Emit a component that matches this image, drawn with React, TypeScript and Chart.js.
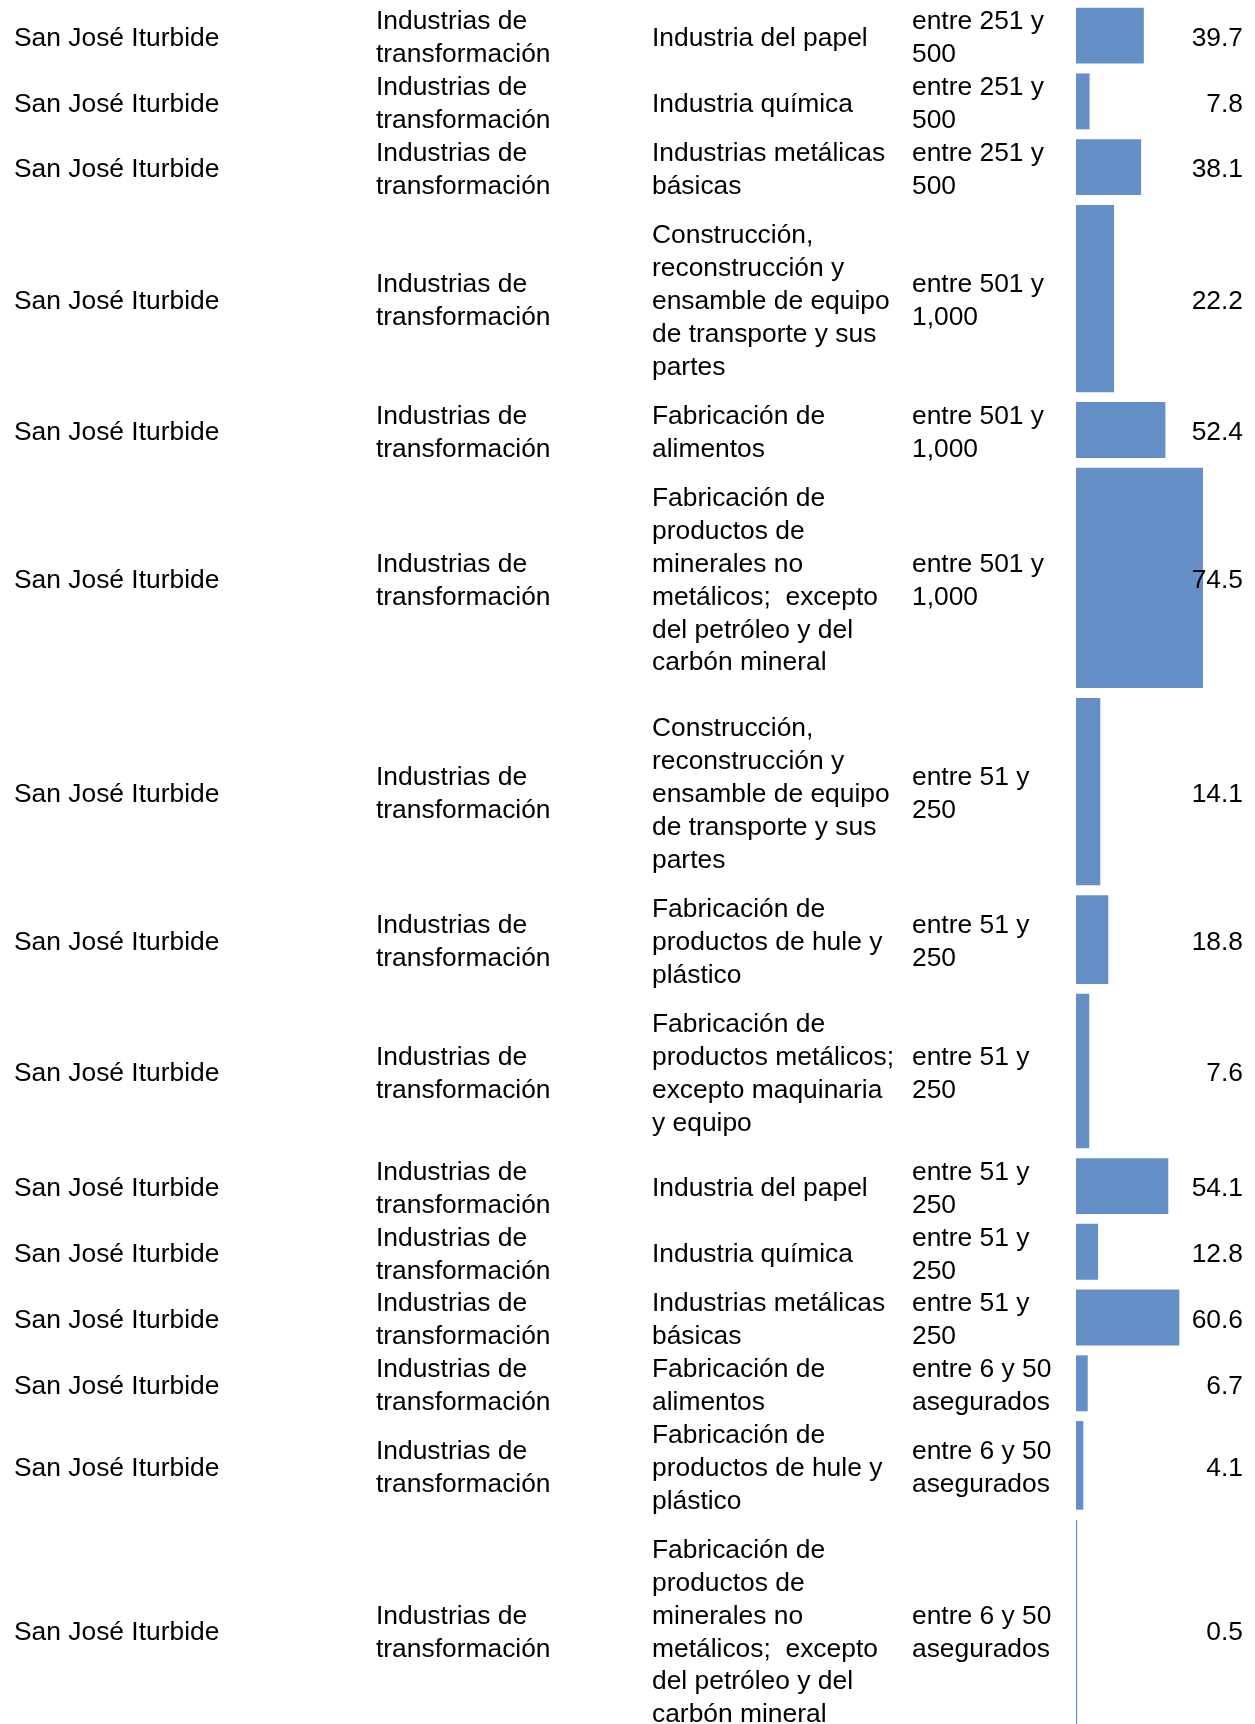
import React, { useEffect, useRef } from 'react';
import { Chart, registerables } from 'chart.js';

Chart.register(...registerables);

// ---- Data ----
const municipios: string[] = [
  'San José Iturbide', 'San José Iturbide', 'San José Iturbide', 'San José Iturbide', 'San José Iturbide',
  'San José Iturbide', 'San José Iturbide', 'San José Iturbide', 'San José Iturbide', 'San José Iturbide',
  'San José Iturbide', 'San José Iturbide', 'San José Iturbide', 'San José Iturbide', 'San José Iturbide',
];

const sectores: string[] = [
  'Industrias de\ntransformación', 'Industrias de\ntransformación', 'Industrias de\ntransformación',
  'Industrias de\ntransformación', 'Industrias de\ntransformación', 'Industrias de\ntransformación',
  'Industrias de\ntransformación', 'Industrias de\ntransformación', 'Industrias de\ntransformación',
  'Industrias de\ntransformación', 'Industrias de\ntransformación', 'Industrias de\ntransformación',
  'Industrias de\ntransformación', 'Industrias de\ntransformación', 'Industrias de\ntransformación',
];

const subsectores: string[] = [
  'Industria del papel',
  'Industria química',
  'Industrias metálicas\nbásicas',
  'Construcción,\nreconstrucción y\nensamble de equipo\nde transporte y sus\npartes',
  'Fabricación de\nalimentos',
  'Fabricación de\nproductos de\nminerales no\nmetálicos;  excepto\ndel petróleo y del\ncarbón mineral',
  'Construcción,\nreconstrucción y\nensamble de equipo\nde transporte y sus\npartes',
  'Fabricación de\nproductos de hule y\nplástico',
  'Fabricación de\nproductos metálicos;\nexcepto maquinaria\ny equipo',
  'Industria del papel',
  'Industria química',
  'Industrias metálicas\nbásicas',
  'Fabricación de\nalimentos',
  'Fabricación de\nproductos de hule y\nplástico',
  'Fabricación de\nproductos de\nminerales no\nmetálicos;  excepto\ndel petróleo y del\ncarbón mineral',
];

const tamanos: string[] = [
  'entre 251 y\n500', 'entre 251 y\n500', 'entre 251 y\n500',
  'entre 501 y\n1,000', 'entre 501 y\n1,000', 'entre 501 y\n1,000',
  'entre 51 y\n250', 'entre 51 y\n250', 'entre 51 y\n250',
  'entre 51 y\n250', 'entre 51 y\n250', 'entre 51 y\n250',
  'entre 6 y 50\nasegurados', 'entre 6 y 50\nasegurados', 'entre 6 y 50\nasegurados',
];

const valores: number[] = [39.7, 7.8, 38.1, 22.2, 52.4, 74.5, 14.1, 18.8, 7.6, 54.1, 12.8, 60.6, 6.7, 4.1, 0.5];

// ---- Layout ----
const W = 1255;
const H = 1724;
const LINE_H = 32.87;
const GAP = 10.5;
const Y_MIN = -0.084;
const Y_MAX = Y_MIN + H / LINE_H;
const FONT = '26.4px "Liberation Sans", Arial, sans-serif';
const COL_X = [14, 376, 652, 912];
const VALUE_X = 1243;
const TEXT_SHIFT = 3;
const BAR_LEFT = 1076;
const BAR_RIGHT_PAD = 9;
const BAR_COLOR = '#658FC7';

const columns = [municipios, sectores, subsectores, tamanos];

function rowSpan(i: number): number {
  const n = Math.max(...columns.map((c) => c[i].split('\n').length));
  if (n <= 2) return 2;
  if (n === 3) return 3;
  return n + 1;
}

const spans = valores.map((_, i) => rowSpan(i));
const centers: number[] = [];
{
  let acc = 0;
  spans.forEach((s) => {
    centers.push(acc + s / 2);
    acc += s;
  });
}

const textPlugin = {
  id: 'tableText',
  afterDatasetsDraw(chart: any) {
    const ctx = chart.ctx as CanvasRenderingContext2D;
    const y = chart.scales.y;
    ctx.save();
    ctx.font = FONT;
    ctx.fillStyle = '#000000';
    ctx.textBaseline = 'middle';
    valores.forEach((v, i) => {
      const cy = y.getPixelForValue(centers[i]) + TEXT_SHIFT;
      ctx.textAlign = 'left';
      columns.forEach((col, c) => {
        const lines = col[i].split('\n');
        lines.forEach((ln, k) => {
          ctx.fillText(ln, COL_X[c], cy + (k - (lines.length - 1) / 2) * LINE_H);
        });
      });
      ctx.textAlign = 'right';
      ctx.fillText(v.toFixed(1), VALUE_X, cy);
    });
    ctx.restore();
  },
};

export default function App() {
  const ref = useRef<HTMLCanvasElement | null>(null);

  useEffect(() => {
    if (!ref.current) return;
    const pxPerUnit = H / (Y_MAX - Y_MIN);
    const chart = new Chart(ref.current, {
      type: 'bar',
      data: {
        datasets: valores.map((v, i) => ({
          label: subsectores[i],
          data: [{ x: v, y: centers[i] }],
          backgroundColor: BAR_COLOR,
          borderWidth: 0,
          grouped: false,
          barThickness: spans[i] * pxPerUnit - GAP,
        })) as any,
      },
      options: {
        indexAxis: 'y',
        animation: false,
        responsive: false,
        maintainAspectRatio: false,
        layout: { padding: { left: BAR_LEFT, right: BAR_RIGHT_PAD, top: 0, bottom: 0 } },
        plugins: { legend: { display: false }, tooltip: { enabled: false }, title: { display: false } },
        scales: {
          x: { type: 'linear', min: 0, max: 100, display: false, offset: false },
          y: {
            type: 'linear',
            min: Y_MIN,
            max: Y_MAX,
            reverse: true,
            display: false,
            offset: false,
            bounds: 'data',
            grace: 0,
          },
        },
      } as any,
      plugins: [textPlugin],
    });
    return () => chart.destroy();
  }, []);

  return (
    <div style={{ position: 'absolute', left: 0, top: 0, width: W, height: H, background: '#ffffff' }}>
      <canvas ref={ref} width={W} height={H} style={{ display: 'block', width: W, height: H }} />
    </div>
  );
}
